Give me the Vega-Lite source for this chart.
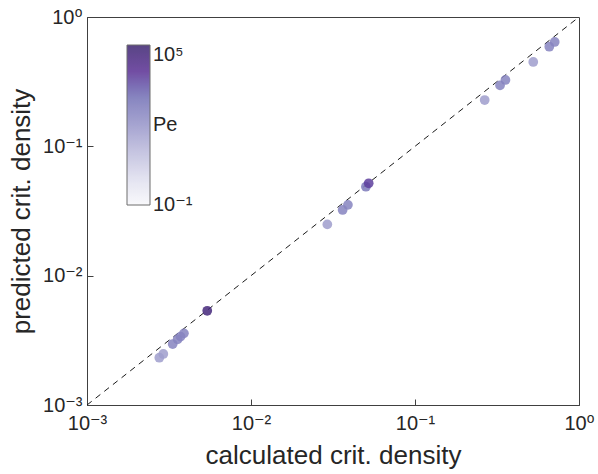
{
  "$schema": "https://vega.github.io/schema/vega-lite/v6.json",
  "width": 492,
  "height": 388,
  "autosize": {"type": "none"},
  "padding": {"left": 87, "top": 17, "right": 19, "bottom": 69},
  "background": "white",
  "config": {
    "font": "Liberation Sans, DejaVu Sans",
    "view": {"stroke": "#404040", "strokeWidth": 1}
  },
  "datasets": {
    "diag": [{"x": 0.001, "y": 0.001}, {"x": 1, "y": 1}],
    "pts": [
      {"calc": 0.00276, "pred": 0.00232, "Pe": 60},
      {"calc": 0.00292, "pred": 0.00248, "Pe": 60},
      {"calc": 0.00333, "pred": 0.00296, "Pe": 300},
      {"calc": 0.00357, "pred": 0.00322, "Pe": 300},
      {"calc": 0.00372, "pred": 0.00338, "Pe": 300},
      {"calc": 0.0039, "pred": 0.00358, "Pe": 300},
      {"calc": 0.00541, "pred": 0.00535, "Pe": 50000},
      {"calc": 0.0292, "pred": 0.0249, "Pe": 60},
      {"calc": 0.0362, "pred": 0.0322, "Pe": 300},
      {"calc": 0.039, "pred": 0.0353, "Pe": 300},
      {"calc": 0.0502, "pred": 0.0487, "Pe": 600},
      {"calc": 0.0522, "pred": 0.0518, "Pe": 6000},
      {"calc": 0.266, "pred": 0.228, "Pe": 60},
      {"calc": 0.33, "pred": 0.296, "Pe": 300},
      {"calc": 0.356, "pred": 0.326, "Pe": 300},
      {"calc": 0.526, "pred": 0.449, "Pe": 60},
      {"calc": 0.659, "pred": 0.589, "Pe": 300},
      {"calc": 0.711, "pred": 0.641, "Pe": 300}
    ]
  },
  "layer": [
    {
      "data": {"name": "diag"},
      "mark": {"type": "line", "strokeDash": [6, 5], "color": "#1a1a1a", "strokeWidth": 1},
      "encoding": {
        "x": {
          "field": "x", "type": "quantitative",
          "scale": {"type": "log", "domain": [0.001, 1]},
          "axis": {
            "values": [0.001, 0.01, 0.1, 1],
            "labelExpr": "datum.value < 0.005 ? '10⁻³' : datum.value < 0.05 ? '10⁻²' : datum.value < 0.5 ? '10⁻¹' : '10⁰'",
            "title": "calculated crit. density",
            "grid": false,
            "tickSize": -6,
            "labelFontSize": 20,
            "titleFontSize": 26,
            "titleFontWeight": "normal",
            "labelColor": "#262626",
            "titleColor": "#262626",
            "domainColor": "#404040",
            "tickColor": "#404040",
            "labelPadding": 14,
            "labelFlush": false,
            "labelDx": 5,
            "titlePadding": 9
          }
        },
        "y": {
          "field": "y", "type": "quantitative",
          "scale": {"type": "log", "domain": [0.001, 1]},
          "axis": {
            "values": [0.001, 0.01, 0.1, 1],
            "labelExpr": "datum.value < 0.005 ? '10⁻³' : datum.value < 0.05 ? '10⁻²' : datum.value < 0.5 ? '10⁻¹' : '10⁰'",
            "title": "predicted crit. density",
            "grid": false,
            "tickSize": -6,
            "labelFontSize": 20,
            "titleFontSize": 26,
            "titleFontWeight": "normal",
            "labelColor": "#262626",
            "titleColor": "#262626",
            "domainColor": "#404040",
            "tickColor": "#404040",
            "labelPadding": 11,
            "labelFlush": false,
            "titlePadding": 8
          }
        }
      }
    },
    {
      "data": {"name": "pts"},
      "mark": {"type": "circle", "size": 95, "opacity": 0.85},
      "encoding": {
        "x": {"field": "calc", "type": "quantitative"},
        "y": {"field": "pred", "type": "quantitative"},
        "color": {
          "field": "Pe", "type": "quantitative",
          "scale": {
            "type": "log",
            "domain": [0.1, 1, 10, 100, 1000, 10000, 100000],
            "range": ["#f8f8fb", "#dedeee", "#bcbbdc", "#9795c9", "#7472b6", "#5a2f94", "#3d2570"]
          },
          "legend": {
            "orient": "none",
            "legendX": 40,
            "legendY": 28,
            "direction": "vertical",
            "gradientLength": 160,
            "gradientThickness": 23,
            "gradientStrokeColor": "#555555",
            "gradientStrokeWidth": 1,
            "title": null,
            "values": [0.1001, 100, 100000],
            "labelExpr": "datum.value > 50000 ? '10⁵' : datum.value < 0.5 ? '10⁻¹' : 'Pe'",
            "labelFontSize": 20,
            "labelColor": "#262626",
            "labelOffset": 3,
            "labelOverlap": false,
            "padding": 0
          }
        }
      }
    }
  ]
}
